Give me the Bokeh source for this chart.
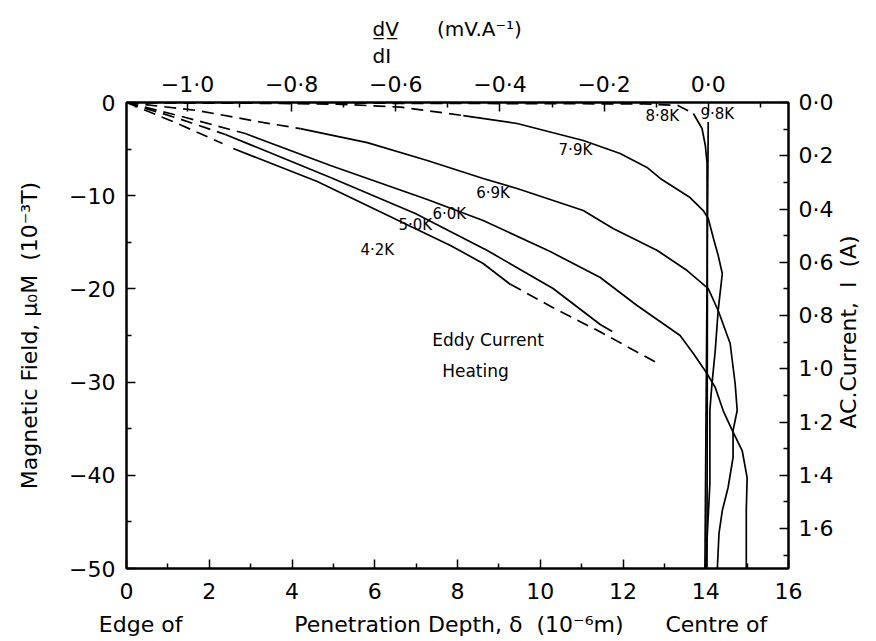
import math
from bokeh.plotting import figure
from bokeh.models import Range1d, LinearAxis, CustomJSTickFormatter, FixedTicker, Title
from bokeh.core.properties import value
from bokeh.embed import file_html
from bokeh.resources import INLINE

FONT = "DejaVu Sans"
NB = "\u00a0"

# ---- data (penetration depth in 1e-6 m, magnetic field in 1e-3 T) ----
k79_dash_x = [0.0, 1.79, 3.72, 5.24, 6.62, 8.14]
k79_dash_y = [0.0, -0.05, -0.1, -0.2, -0.5, -1.4]
k79_x = [8.14, 9.44, 11.04, 11.93, 12.58, 12.90, 13.62, 13.94, 14.06, 14.20, 14.30, 14.40, 14.30, 14.23, 14.15, 14.10, 14.10, 14.03, 14.00]
k79_y = [-1.4, -2.25, -4.08, -5.47, -6.97, -8.15, -10.2, -11.59, -12.45, -14.8, -16.4, -18.35, -22.3, -26.6, -30.2, -33.0, -40.9, -47.0, -50.0]

k69_dash_x = [0.0, 1.71, 3.31, 4.2]
k69_dash_y = [0.0, -0.86, -2.15, -2.8]
k69_x = [4.2, 5.82, 7.27, 8.62, 9.44, 11.04, 11.76, 12.83, 13.55, 14.06, 14.30, 14.59, 14.71, 14.76, 14.66, 14.66, 14.54, 14.40, 14.32, 14.28]
k69_y = [-2.8, -4.3, -6.22, -8.15, -9.23, -11.59, -13.52, -15.88, -18.03, -19.96, -22.32, -25.86, -30.15, -33.05, -35.19, -38.09, -41.31, -43.78, -46.24, -50.0]

k60_dash_x = [0.0, 1.43, 2.87]
k60_dash_y = [0.0, -1.61, -3.33]
k60_x = [2.87, 4.93, 7.27, 8.62, 10.24, 11.45, 12.34, 13.38, 13.70, 14.03, 14.23, 14.42, 14.64, 14.88, 15.0, 14.98, 14.98]
k60_y = [-3.33, -6.76, -10.41, -12.66, -15.99, -18.78, -21.78, -25.0, -26.93, -29.08, -30.58, -33.05, -35.19, -37.34, -40.24, -43.78, -50.0]

k50_dash_x = [0.0, 1.18, 2.39]
k50_dash_y = [0.0, -1.61, -3.43]
k50_x = [2.39, 4.93, 6.98, 8.72, 10.31, 11.45, 11.74]
k50_y = [-3.43, -8.05, -11.91, -15.88, -19.96, -23.82, -24.57]

k42_dash_x = [0.0, 1.18, 2.32]
k42_dash_y = [0.0, -2.15, -4.4]
k42_x = [2.58, 4.61, 6.62, 7.83, 8.62, 9.28]
k42_y = [-4.94, -8.48, -12.77, -15.34, -17.27, -19.53]

eddy_x = [9.28, 10.3, 11.4, 12.85]
eddy_y = [-19.5, -22.0, -24.5, -28.0]

k88_dash_x = [0.0, 6.0, 12.5, 13.33, 13.70]
k88_dash_y = [0.0, -0.08, -0.15, -0.32, -1.18]
k88_x = [13.70, 13.91, 13.99, 14.03, 14.04, 14.03]
k88_y = [-1.18, -2.79, -4.61, -6.44, -20.0, -50.0]

k98_x = [14.06, 13.98]
k98_y = [-2.1, -50.0]

curve_labels = ["7\u00b79K", "6\u00b79K", "6\u00b70K", "5\u00b70K", "4\u00b72K", "8\u00b78K", "9\u00b78K"]
label_x = [10.85, 8.86, 7.8, 6.98, 6.06, 12.95, 14.28]
label_y = [-5.15, -9.76, -12.0, -13.1, -15.8, -1.4, -1.2]

eddy_text = ["Eddy Current", "Heating"]
eddy_text_x = [7.39, 7.63]
eddy_text_y = [-25.5, -28.8]

bottom_ticks = [0, 2, 4, 6, 8, 10, 12, 14, 16]
left_ticks = [-50, -40, -30, -20, -10, 0]
top_ticks = [-1.0, -0.8, -0.6, -0.4, -0.2, 0.0]
right_ticks = [0.0, 0.2, 0.4, 0.6, 0.8, 1.0, 1.2, 1.4, 1.6]

p = figure(width=876, height=641, output_backend="svg", toolbar_location=None,
           x_range=Range1d(0, 16), y_range=Range1d(-50, 0),
           x_axis_location=None, y_axis_location=None,
           min_border_left=126, min_border_right=88, min_border_top=102, min_border_bottom=73)
p.extra_x_ranges = {"dvdi": Range1d(-1.117, 0.154)}
p.extra_y_ranges = {"cur": Range1d(1.75, 0.0)}
p.grid.visible = False
p.outline_line_color = "black"
p.outline_line_width = 2
p.background_fill_color = "white"
p.border_fill_color = "white"

fmt_int = CustomJSTickFormatter(code="return tick.toFixed(0).replace('-', '\u2212');")
fmt_dec = CustomJSTickFormatter(code="return tick.toFixed(1).replace('-', '\u2212').replace('.', '\u00b7');")

def style(ax, ticks, minor, fmt):
    ax.ticker = FixedTicker(ticks=ticks, minor_ticks=minor)
    ax.formatter = fmt
    ax.axis_line_color = "black"
    ax.axis_line_width = 2
    ax.major_tick_in = 9
    ax.major_tick_out = 0
    ax.minor_tick_in = 5
    ax.minor_tick_out = 0
    ax.major_tick_line_width = 1.5
    ax.minor_tick_line_width = 1.5
    ax.major_label_text_font = FONT
    ax.major_label_text_font_size = "22px"
    ax.major_label_text_color = "black"
    ax.axis_label_text_font = FONT
    ax.axis_label_text_font_size = "22px"
    ax.axis_label_text_font_style = "normal"
    ax.axis_label_text_color = "black"

bottom_label = ("Edge of" + NB * 16 + "Penetration Depth, \u03b4" + NB * 2 + "(10\u207b\u2076m)"
                + NB * 6 + "Centre of" + NB * 7)
xb = LinearAxis(axis_label=bottom_label)
style(xb, bottom_ticks, list(range(1, 16, 2)), fmt_int)
xb.major_label_standoff = 14
xb.axis_label_standoff = 10
p.add_layout(xb, "below")

yl = LinearAxis(axis_label="Magnetic Field, \u03bc\u2080M" + NB * 2 + "(10\u207b\u00b3T)")
style(yl, left_ticks, [-45, -35, -25, -15, -5], fmt_int)
yl.major_label_standoff = 11
yl.axis_label_standoff = 24
p.add_layout(yl, "left")

xt = LinearAxis(x_range_name="dvdi", axis_label=None)
style(xt, top_ticks, [-1.1, -0.9, -0.7, -0.5, -0.3, -0.1, 0.1], fmt_dec)
xt.major_label_standoff = 6
p.add_layout(xt, "above")

right_label = "AC.Current," + NB * 2 + "I" + NB * 2 + "(A)"
yr = LinearAxis(y_range_name="cur", axis_label=right_label)
style(yr, right_ticks, [0.1, 0.3, 0.5, 0.7, 0.9, 1.1, 1.3, 1.5, 1.7], fmt_dec)
yr.major_label_standoff = 10
yr.axis_label_standoff = 12
try:
    yr.axis_label_orientation = math.pi / 2
    yr.axis_label_align = "end"
    yr.axis_label = NB * 20 + right_label
except Exception:
    pass
p.add_layout(yr, "right")

t_di = Title(text="dI", align="left", offset=246, text_font=FONT, text_font_size="20px",
             text_font_style="normal", text_color="black", standoff=2)
t_dv = Title(text="d\u0332V\u0332" + NB * 6 + "(mV.A\u207b\u00b9)", align="left", offset=246,
             text_font=FONT, text_font_size="20px", text_font_style="normal",
             text_color="black", standoff=0)
p.add_layout(t_di, "above")
p.add_layout(t_dv, "above")

LW = 1.7
DASH = "12 7"
for dx, dy in [(k79_dash_x, k79_dash_y), (k69_dash_x, k69_dash_y), (k60_dash_x, k60_dash_y),
               (k50_dash_x, k50_dash_y), (k42_dash_x, k42_dash_y), (k88_dash_x, k88_dash_y),
               (eddy_x, eddy_y)]:
    p.line(dx, dy, line_color="black", line_width=LW, line_dash=DASH)
for sx, sy in [(k79_x, k79_y), (k69_x, k69_y), (k60_x, k60_y), (k50_x, k50_y),
               (k42_x, k42_y), (k88_x, k88_y), (k98_x, k98_y)]:
    p.line(sx, sy, line_color="black", line_width=LW)

p.text(x=label_x, y=label_y, text=curve_labels, text_font=value(FONT), text_font_size="15px",
       text_align="center", text_baseline="middle", text_color="black")
p.text(x=eddy_text_x, y=eddy_text_y, text=eddy_text, text_font=value(FONT), text_font_size="17px",
       text_align="left", text_baseline="middle", text_color="black")

open("out.html", "w").write(file_html(p, INLINE))
